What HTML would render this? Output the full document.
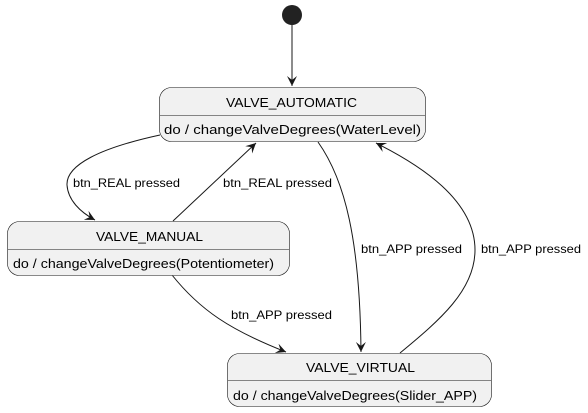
<!DOCTYPE html>
<html><head><style>html,body{margin:0;padding:0;background:#fff;}svg{display:block}</style></head>
<body>
<svg width="588" height="413" viewBox="0 0 588 413" xmlns="http://www.w3.org/2000/svg" font-family="'Liberation Sans', sans-serif">
<defs>
<marker id="a" markerWidth="12" markerHeight="12" refX="10" refY="5" orient="auto" markerUnits="userSpaceOnUse">
<path d="M0,0 L10,5 L0,10 L4,5 Z" fill="#181818"/>
</marker>
</defs>
<circle cx="292" cy="15" r="10" fill="#222"/>
<g fill="none" stroke="#181818" stroke-width="1">
<line x1="292" y1="25" x2="292" y2="86" marker-end="url(#a)"/>
<path d="M160,135 C100,148 66,165 67,185 C68,200 80,212 95,220" marker-end="url(#a)"/>
<path d="M173,221 L256,143" marker-end="url(#a)"/>
<path d="M318,142 C345,180 360,240 361,352" marker-end="url(#a)"/>
<path d="M400,353 C440,320 475,290 475,250 C475,200 420,165 376,143" marker-end="url(#a)"/>
<path d="M172,275 C200,310 230,330 286,352" marker-end="url(#a)"/>
</g>
<g fill="#f1f1f1" stroke="#181818" stroke-width="0.6">
<rect x="159.5" y="87.5" width="266" height="54" rx="12"/>
<rect x="7.5" y="221.5" width="282" height="54" rx="12"/>
<rect x="227.5" y="353.5" width="264" height="53" rx="12"/>
</g>
<g stroke="#181818" stroke-width="0.6">
<line x1="160" y1="115.5" x2="425" y2="115.5"/>
<line x1="8" y1="249.5" x2="289" y2="249.5"/>
<line x1="228" y1="380.5" x2="491" y2="380.5"/>
</g>
<g font-size="13" fill="#000" lengthAdjust="spacingAndGlyphs">
<text x="226" y="107" textLength="131" lengthAdjust="spacingAndGlyphs">VALVE_AUTOMATIC</text>
<text x="164" y="134" textLength="257" lengthAdjust="spacingAndGlyphs">do / changeValveDegrees(WaterLevel)</text>
<text x="96" y="241" textLength="107" lengthAdjust="spacingAndGlyphs">VALVE_MANUAL</text>
<text x="13" y="268" textLength="261" lengthAdjust="spacingAndGlyphs">do / changeValveDegrees(Potentiometer)</text>
<text x="306" y="372" textLength="109" lengthAdjust="spacingAndGlyphs">VALVE_VIRTUAL</text>
<text x="233" y="400" textLength="244" lengthAdjust="spacingAndGlyphs">do / changeValveDegrees(Slider_APP)</text>
</g>
<g font-size="12" fill="#000">
<text x="73" y="187" textLength="107" lengthAdjust="spacingAndGlyphs">btn_REAL pressed</text>
<text x="223" y="187" textLength="109" lengthAdjust="spacingAndGlyphs">btn_REAL pressed</text>
<text x="361" y="253" textLength="101" lengthAdjust="spacingAndGlyphs">btn_APP pressed</text>
<text x="481" y="253" textLength="100" lengthAdjust="spacingAndGlyphs">btn_APP pressed</text>
<text x="231" y="319" textLength="101" lengthAdjust="spacingAndGlyphs">btn_APP pressed</text>
</g>
</svg>
</body></html>
